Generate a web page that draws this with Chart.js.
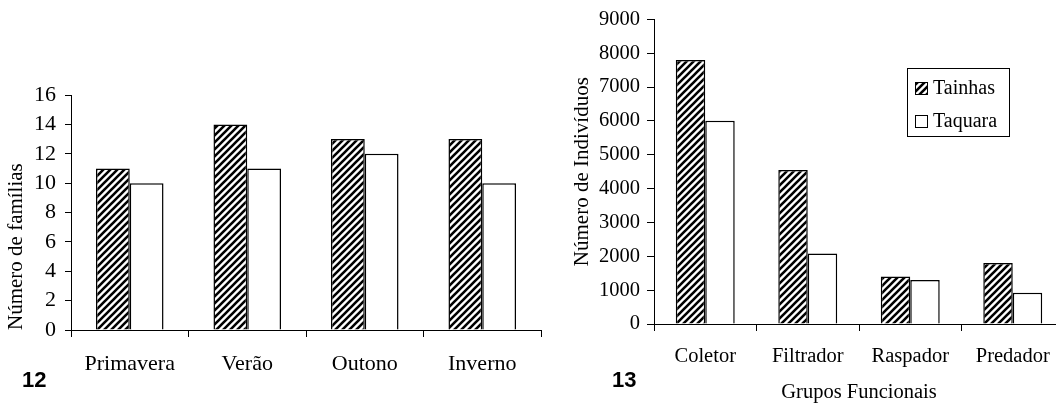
<!DOCTYPE html>
<html>
<head>
<meta charset="utf-8">
<script src="https://cdn.jsdelivr.net/npm/chart.js@4.4.1/dist/chart.umd.min.js"></script>
<style>
  html, body { margin: 0; padding: 0; overflow: hidden; background: #fff; }
  #wrapLeft { position: absolute; left: 0; top: 0; width: 545px; height: 404px; }
  #wrapRight { position: absolute; left: 545px; top: 0; width: 519px; height: 404px; }
</style>
</head>
<body>
<div id="wrapLeft"><canvas id="chartEstacoes"></canvas></div>
<div id="wrapRight"><canvas id="chartGrupos"></canvas></div>
<script>
// fig 12 - families per season
const estacoes = ['Primavera', 'Verão', 'Outono', 'Inverno'];
const familiasTainhas = [11, 14, 13, 13];
const familiasTaquara = [10, 11, 12, 10];

// fig 13 - individuals per functional group
const grupos = ['Coletor', 'Filtrador', 'Raspador', 'Predador'];
const individuosTainhas = [7800, 4550, 1400, 1800];
const individuosTaquara = [6000, 2080, 1300, 920];

const SERIF = '"Liberation Serif", "Times New Roman", serif';

function makeHatch() {
    const c = document.createElement('canvas');
    c.width = 7; c.height = 7;
    const g = c.getContext('2d');
    g.fillStyle = '#fff';
    g.fillRect(0, 0, 7, 7);
    g.strokeStyle = '#000';
    g.lineWidth = 2.6;
    g.beginPath();
    g.moveTo(-1, 8); g.lineTo(8, -1);
    g.moveTo(-1, 1); g.lineTo(1, -1);
    g.moveTo(6, 8); g.lineTo(8, 6);
    g.stroke();
    return g.createPattern(c, 'repeat');
}
const hatch = makeHatch();

// bold figure number under each chart
const figNum = {
    id: 'figNum',
    afterDraw(chart, args, opts) {
        const ctx = chart.ctx;
        ctx.save();
        ctx.fillStyle = '#000';
        ctx.font = 'bold 22px "Liberation Sans", Arial, sans-serif';
        ctx.textBaseline = 'alphabetic';
        ctx.fillText(opts.text, opts.x, 387);
        ctx.restore();
    }
};

// boxed legend inside the right plot
const legendBox = {
    id: 'legendBox',
    afterDraw(chart) {
        const ctx = chart.ctx;
        ctx.save();
        ctx.strokeStyle = '#000';
        ctx.lineWidth = 1;
        ctx.strokeRect(362.5, 68.5, 102, 68);
        ctx.font = '20px ' + SERIF;
        ctx.textBaseline = 'middle';
        chart.data.datasets.forEach((ds, i) => {
            const y = 88 + i * 33;
            ctx.fillStyle = ds.backgroundColor;
            ctx.fillRect(370, y - 6, 12, 12);
            ctx.strokeRect(370.5, y - 5.5, 12, 12);
            ctx.fillStyle = '#000';
            ctx.fillText(ds.label, 388, y + 1);
        });
        ctx.restore();
    }
};

function barSet(label, data, bg) {
    return {
        label: label,
        data: data,
        backgroundColor: bg,
        borderColor: '#000',
        borderWidth: 1.5,
        barPercentage: 1,
        categoryPercentage: 0.575
    };
}

const plainNum = v => String(v);

// left chart
new Chart(document.getElementById('chartEstacoes'), {
    type: 'bar',
    data: {
        labels: estacoes,
        datasets: [
            barSet('Tainhas', familiasTainhas, hatch),
            barSet('Taquara', familiasTaquara, '#fff')
        ]
    },
    plugins: [figNum],
    options: {
        responsive: true,
        maintainAspectRatio: false,
        animation: false,
        layout: { padding: { top: 95, right: 4, left: 0, bottom: 0 } },
        plugins: {
            legend: { display: false },
            tooltip: { enabled: false },
            figNum: { text: '12', x: 22 }
        },
        scales: {
            x: {
                afterFit: s => { s.height = 74; },
                grid: { drawOnChartArea: false, color: '#000', tickLength: 7, lineWidth: 1 },
                border: { color: '#000', width: 1 },
                ticks: { color: '#000', padding: 14, font: { family: SERIF, size: 22 } }
            },
            y: {
                min: 0,
                max: 16,
                afterFit: s => { s.width = 71; },
                ticks: { stepSize: 2, autoSkip: false, callback: plainNum, color: '#000', padding: 9, font: { family: SERIF, size: 22 } },
                grid: { drawOnChartArea: false, color: '#000', tickLength: 6 },
                border: { color: '#000', width: 1 },
                title: {
                    display: true,
                    text: 'Número de famílias',
                    align: 'start',
                    color: '#000',
                    padding: { top: 4 },
                    font: { family: SERIF, size: 21 }
                }
            }
        }
    }
});

// right chart
new Chart(document.getElementById('chartGrupos'), {
    type: 'bar',
    data: {
        labels: grupos,
        datasets: [
            barSet('Tainhas', individuosTainhas, hatch),
            barSet('Taquara', individuosTaquara, '#fff')
        ]
    },
    plugins: [figNum, legendBox],
    options: {
        responsive: true,
        maintainAspectRatio: false,
        animation: false,
        layout: { padding: { top: 16, right: 0, left: 0, bottom: 0 } },
        plugins: {
            legend: { display: false },
            tooltip: { enabled: false },
            figNum: { text: '13', x: 67 }
        },
        scales: {
            x: {
                afterFit: s => { s.height = 80; },
                grid: { drawOnChartArea: false, color: '#000', tickLength: 7 },
                border: { color: '#000', width: 1 },
                ticks: { color: '#000', padding: 13, font: { family: SERIF, size: 20.5 } },
                title: {
                    display: true,
                    text: 'Grupos Funcionais',
                    color: '#000',
                    padding: { top: 0, bottom: 1 },
                    font: { family: SERIF, size: 20.5, lineHeight: 1 }
                }
            },
            y: {
                min: 0,
                max: 9000,
                afterFit: s => { s.width = 109; },
                ticks: { stepSize: 1000, autoSkip: false, callback: plainNum, color: '#000', padding: 7, font: { family: SERIF, size: 20.5 } },
                grid: { drawOnChartArea: false, color: '#000', tickLength: 7 },
                border: { color: '#000', width: 1 },
                title: {
                    display: true,
                    text: 'Número de Indivíduos',
                    color: '#000',
                    padding: { top: 25 },
                    font: { family: SERIF, size: 21 }
                }
            }
        }
    }
});
</script>
</body>
</html>
